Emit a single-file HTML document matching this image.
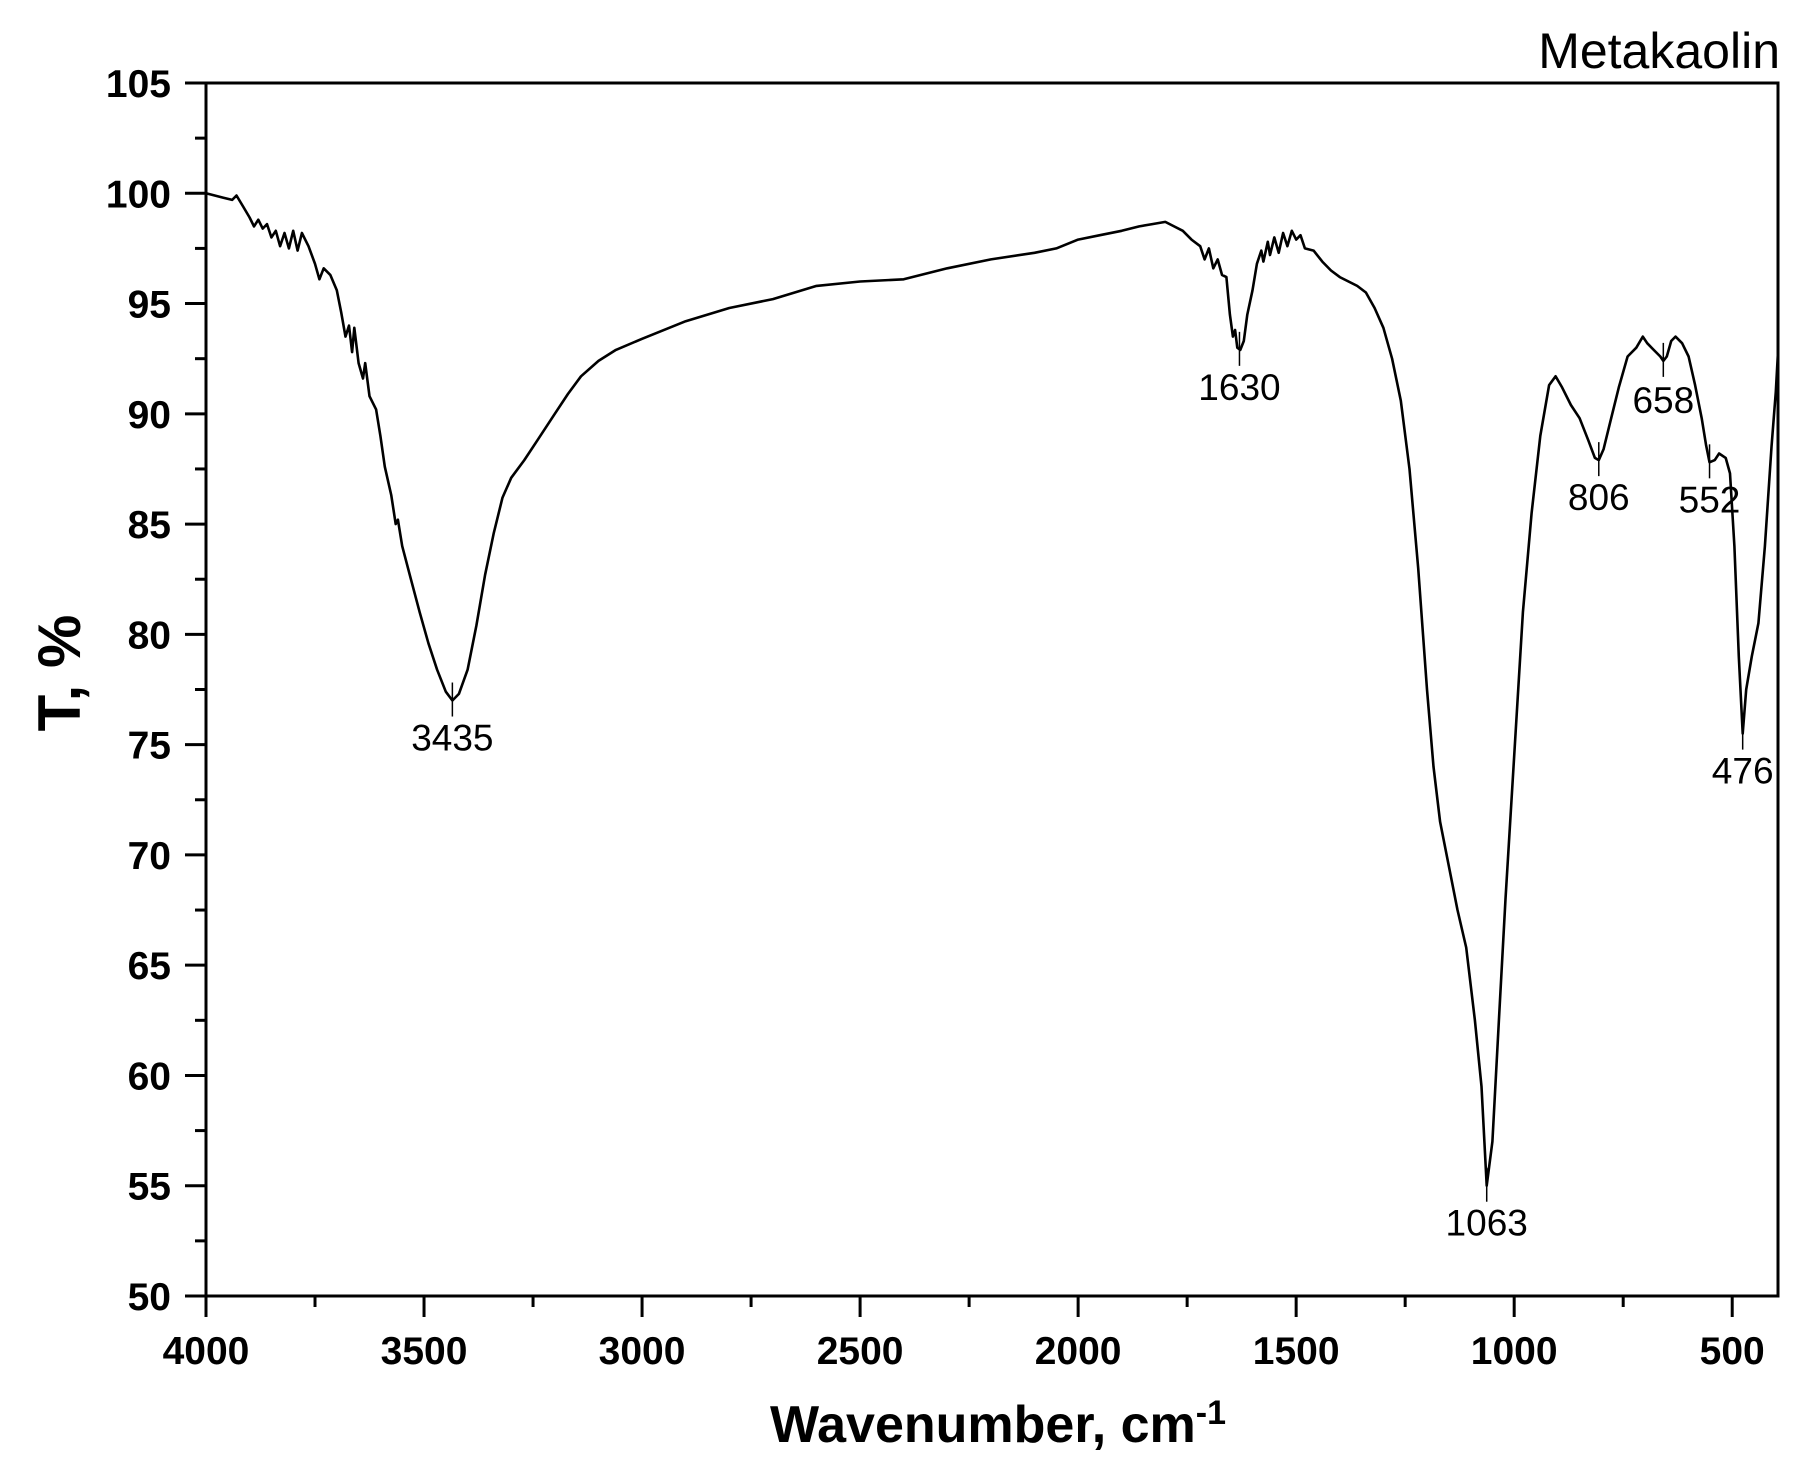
<!DOCTYPE html>
<html><head><meta charset="utf-8"><style>
html,body{margin:0;padding:0;background:#fff;}
svg text{font-family:"Liberation Sans",Arial,sans-serif;}
</style></head><body>
<svg id="chart" width="1809" height="1463" viewBox="0 0 1809 1463" xmlns="http://www.w3.org/2000/svg">
<rect x="0" y="0" width="1809" height="1463" fill="#fff"/>
<g id="axes"></g>
<path id="spectrum" fill="none" stroke="#000" stroke-width="2.6" stroke-linejoin="round"/>
<g id="annots"></g>
<text x="1780" y="68" text-anchor="end" font-size="50">Metakaolin</text>
<text x="998" y="1442" text-anchor="middle" font-size="52" font-weight="bold">Wavenumber, cm<tspan dy="-18" font-size="34">-1</tspan></text>
<text transform="translate(80,673) rotate(-90)" text-anchor="middle" font-size="60" font-weight="bold">T, %</text>
</svg>
<script>
const wavenumbers=[4000,3980,3960,3940,3930,3915,3900,3890,3880,3870,3860,3850,3840,3830,3820,3810,3800,3790,3780,3765,3750,3740,3730,3715,3700,3690,3680,3672,3665,3660,3650,3640,3635,3625,3610,3600,3590,3575,3565,3560,3550,3530,3510,3490,3470,3450,3435,3420,3400,3380,3360,3340,3320,3300,3270,3240,3200,3170,3140,3100,3060,3000,2900,2800,2700,2600,2500,2400,2300,2200,2100,2050,2000,1950,1900,1860,1830,1800,1780,1760,1740,1720,1710,1700,1690,1680,1670,1660,1652,1645,1640,1635,1628,1620,1612,1600,1590,1580,1575,1565,1560,1550,1540,1530,1520,1510,1500,1490,1480,1460,1440,1420,1400,1380,1360,1340,1320,1300,1280,1260,1240,1220,1200,1185,1170,1150,1130,1110,1090,1075,1063,1050,1035,1020,1000,980,960,940,920,905,890,870,850,830,815,806,795,780,760,740,720,705,695,680,665,658,650,640,630,615,600,585,570,560,552,540,530,515,505,495,485,476,468,455,440,425,410,400,395];
const transmittance=[100,99.9,99.8,99.7,99.9,99.4,98.9,98.5,98.8,98.4,98.6,98.0,98.3,97.6,98.2,97.5,98.3,97.4,98.2,97.6,96.8,96.1,96.6,96.3,95.6,94.6,93.5,94.0,92.8,93.9,92.3,91.6,92.3,90.8,90.2,89.0,87.6,86.3,85.0,85.2,84.0,82.5,81.0,79.6,78.4,77.4,77.0,77.3,78.4,80.4,82.7,84.6,86.2,87.1,87.9,88.8,90.0,90.9,91.7,92.4,92.9,93.4,94.2,94.8,95.2,95.8,96.0,96.1,96.6,97.0,97.3,97.5,97.9,98.1,98.3,98.5,98.6,98.7,98.5,98.3,97.9,97.6,97.0,97.5,96.6,97.0,96.3,96.2,94.5,93.5,93.8,93.0,92.9,93.3,94.5,95.6,96.8,97.4,96.9,97.8,97.2,98.0,97.3,98.2,97.6,98.3,97.9,98.1,97.5,97.4,96.9,96.5,96.2,96.0,95.8,95.5,94.8,93.9,92.5,90.6,87.5,83.0,77.5,74.0,71.5,69.5,67.5,65.8,62.5,59.5,55.0,57.0,62.5,68.0,74.5,81.0,85.5,89.0,91.3,91.7,91.2,90.4,89.8,88.8,88.0,87.9,88.4,89.6,91.2,92.6,93.0,93.5,93.2,92.9,92.6,92.4,92.6,93.3,93.5,93.2,92.6,91.3,89.8,88.6,87.8,87.9,88.2,88.0,87.3,84.0,79.0,75.5,77.5,79.0,80.5,84.0,88.5,91.0,92.8];
const peakPositions=[3435,1630,1063,806,658,552,476];
const peakValues=[77.0,92.9,55.0,87.9,92.4,87.8,75.5];
const peakLabels=["3435","1630","1063","806","658","552","476"];
const xTicks=[4000,3500,3000,2500,2000,1500,1000,500];
const yTicks=[50,55,60,65,70,75,80,85,90,95,100,105];

const L=206,R=1778,T0=83,B=1296;
const xMin=4000,xMax=395,yMin=50,yMax=105;
const px=v=>L+(xMin-v)/(xMin-xMax)*(R-L);
const py=v=>B-(v-yMin)/(yMax-yMin)*(B-T0);
const NS="http://www.w3.org/2000/svg";
function mk(tag,attrs,parent){const e=document.createElementNS(NS,tag);for(const k in attrs)e.setAttribute(k,attrs[k]);parent.appendChild(e);return e;}
const axes=document.getElementById('axes');
const frame=mk('rect',{x:L,y:T0,width:R-L,height:B-T0,fill:'none',stroke:'#000','stroke-width':3},axes);


xTicks.forEach(v=>{
  const t=mk('line',{x1:px(v),x2:px(v),y1:B,y2:B+21,stroke:'#000','stroke-width':3},axes);
  
  
  const m=mk('line',{x1:px(v-250),x2:px(v-250),y1:B,y2:B+11,stroke:'#000','stroke-width':3},axes);
  
  
  const tx=mk('text',{x:px(v),y:1364,'text-anchor':'middle','font-size':39,'font-weight':'bold'},axes);
  tx.textContent=v;
  
  
});
yTicks.forEach(v=>{
  const t=mk('line',{x1:L-21,x2:L,y1:py(v),y2:py(v),stroke:'#000','stroke-width':3},axes);
  
  
  if(v<105){const m=mk('line',{x1:L-11,x2:L,y1:py(v+2.5),y2:py(v+2.5),stroke:'#000','stroke-width':3},axes);
  
  }
  const tx=mk('text',{x:171,y:py(v)+14,'text-anchor':'end','font-size':39,'font-weight':'bold'},axes);
  tx.textContent=v;
  
  
});
let d='';
wavenumbers.forEach((w,i)=>{d+=(i?'L':'M')+px(w).toFixed(1)+','+py(transmittance[i]).toFixed(1);});
document.getElementById('spectrum').setAttribute('d',d);
const an=document.getElementById('annots');
peakPositions.forEach((w,i)=>{
  const x=px(w),y=py(peakValues[i]);
  const ln=mk('line',{x1:x,x2:x,y1:y-18,y2:y+16,stroke:'#000','stroke-width':1.5},an);
  
  
  const off=(peakLabels[i]==='658')?52:50;
  const tx=mk('text',{x:x,y:y+off,'text-anchor':'middle','font-size':37},an);
  tx.textContent=peakLabels[i];
  
  
});
</script>
</body></html>
